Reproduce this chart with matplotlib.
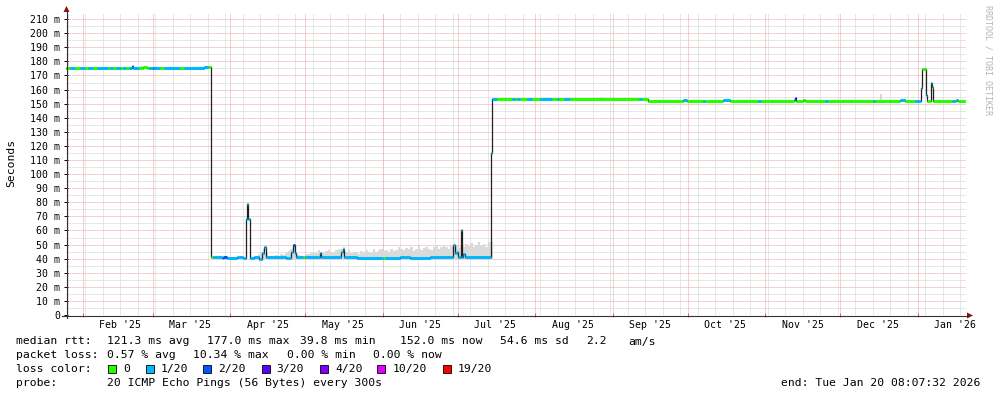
import numpy as np
import pandas as pd
import matplotlib
matplotlib.use("Agg")
import matplotlib.pyplot as plt
import matplotlib.dates as mdates
from matplotlib.lines import Line2D
from matplotlib.patches import Polygon, Rectangle
from matplotlib.collections import LineCollection

plt.rcParams['font.family'] = ['DejaVu Sans Mono']

W, H = 997, 397
t_start = pd.Timestamp("2025-01-25 08:07:32")
t_end = pd.Timestamp("2026-01-20 08:07:32")

# loss buckets
loss_labels = ["0", "1/20", "2/20", "3/20", "4/20", "10/20", "19/20"]
loss_colors = ["#26ff00", "#00b8ff", "#0059ff", "#5e00ff", "#7e00ff", "#dd00ff", "#ff0000"]

# median rtt as steps: value (ms) and loss bucket hold until next timestamp
med_time = [
    "2025-01-25 08:07", "2025-01-27 00:00", "2025-01-29 00:00", "2025-01-31 00:00",
    "2025-02-02 00:00", "2025-02-03 00:00", "2025-02-05 00:00", "2025-02-06 16:00",
    "2025-02-11 00:00", "2025-02-12 00:00", "2025-02-13 00:00", "2025-02-14 08:00",
    "2025-02-16 04:00", "2025-02-17 04:00", "2025-02-18 12:00", "2025-02-19 12:00",
    "2025-02-20 16:00", "2025-02-21 04:00", "2025-02-23 12:00", "2025-02-25 00:00",
    "2025-02-26 14:00", "2025-02-27 12:00", "2025-03-01 02:00", "2025-03-01 14:00",
    "2025-03-03 22:00", "2025-03-05 12:00", "2025-03-11 22:00", "2025-03-13 12:00",
    "2025-03-21 12:00", "2025-03-23 08:00",
    "2025-03-24 04:00", "2025-03-25 04:00", "2025-03-27 00:00", "2025-03-28 16:00",
    "2025-03-29 02:00", "2025-03-30 16:00", "2025-04-03 22:00", "2025-04-06 06:00",
    "2025-04-07 04:00", "2025-04-07 14:00", "2025-04-08 04:00", "2025-04-08 20:00",
    "2025-04-10 16:00", "2025-04-12 16:00", "2025-04-13 22:00", "2025-04-14 16:00",
    "2025-04-15 08:00", "2025-04-21 16:00", "2025-04-23 12:00", "2025-04-25 12:00",
    "2025-04-26 08:00", "2025-04-27 02:00", "2025-04-27 12:00", "2025-04-30 08:00",
    "2025-05-01 02:00", "2025-05-06 22:00", "2025-05-07 08:00", "2025-05-10 00:00",
    "2025-05-15 12:00", "2025-05-16 02:00", "2025-05-16 12:00", "2025-05-21 22:00",
    "2025-06-01 04:00", "2025-06-02 00:00", "2025-06-08 00:00", "2025-06-12 00:00",
    "2025-06-20 00:00", "2025-06-28 12:00", "2025-06-29 08:00", "2025-06-29 22:00",
    "2025-06-30 16:00", "2025-07-01 08:00", "2025-07-02 04:00", "2025-07-02 16:00",
    "2025-07-03 08:00", "2025-07-04 02:00", "2025-07-14 04:00", "2025-07-14 14:00",
    "2025-07-16 22:00", "2025-07-22 22:00", "2025-07-24 02:00", "2025-07-24 22:00",
    "2025-07-26 02:00", "2025-07-28 22:00", "2025-07-30 22:00", "2025-08-03 02:00",
    "2025-08-07 22:00", "2025-08-09 22:00", "2025-08-10 16:00", "2025-08-12 16:00",
    "2025-08-15 02:00", "2025-09-11 16:00", "2025-09-12 22:00", "2025-09-15 04:00",
    "2025-09-29 06:00", "2025-09-30 22:00", "2025-10-07 06:00", "2025-10-08 02:00",
    "2025-10-15 06:00", "2025-10-18 02:00", "2025-10-29 02:00", "2025-10-30 06:00",
    "2025-11-12 12:00", "2025-11-12 22:00", "2025-11-13 12:00", "2025-11-16 06:00",
    "2025-11-17 02:00", "2025-11-24 22:00", "2025-11-26 02:00", "2025-12-14 06:00",
    "2025-12-15 02:00", "2025-12-25 02:00", "2025-12-27 02:00", "2025-12-31 02:00",
    "2026-01-02 04:00", "2026-01-02 14:00", "2026-01-04 12:00", "2026-01-04 22:00",
    "2026-01-06 04:00", "2026-01-06 14:00", "2026-01-07 00:00", "2026-01-14 22:00",
    "2026-01-16 02:00", "2026-01-16 12:00", "2026-01-17 08:00",
]
med_ms = [
    175.2, 175.2, 175.2, 175.2, 175.2, 175.2, 175.2, 175.2,
    175.2, 175.2, 175.2, 175.2, 175.2, 175.2, 175.2, 175.2,
    177.0, 175.2, 175.2, 176.3, 175.2, 175.2, 175.2, 175.2,
    175.2, 175.2, 175.2, 175.2, 176.3, 176.3,
    41.0, 41.0, 41.5, 40.7, 41.0, 40.7, 41.1, 40.3,
    68.0, 78.8, 68.0, 40.5, 41.0, 39.8, 44.0, 48.0,
    41.0, 41.5, 40.8, 45.0, 49.5, 44.0, 41.0, 41.0,
    41.5, 44.0, 41.5, 41.0, 45.0, 47.0, 41.0, 40.5,
    40.8, 40.8, 41.0, 40.7, 41.0, 41.0, 49.7, 44.0,
    45.0, 41.0, 60.3, 41.5, 43.0, 41.0, 114.7, 153.6,
    153.0, 153.5, 153.0, 153.0, 153.0, 153.0, 153.0, 153.0,
    153.0, 153.0, 153.0, 153.3, 153.0, 153.0, 153.0, 152.1,
    152.4, 152.1, 152.1, 152.1, 152.6, 152.1, 152.1, 152.1,
    152.3, 153.9, 152.1, 152.5, 152.1, 152.1, 152.1, 152.1,
    152.1, 152.3, 152.1, 152.1, 161.0, 174.6, 156.0, 152.1,
    164.4, 161.6, 152.1, 152.1, 152.1, 152.8, 152.0,
]
med_loss = [
    0, 1, 0, 1, 0, 1, 0, 1,
    0, 1, 0, 1, 0, 1, 0, 1,
    1, 1, 0, 0, 0, 1, 2, 1,
    0, 1, 0, 1, 1, 0,
    0, 1, 1, 1, 2, 1, 1, 1,
    1, 1, 1, 1, 1, 1, 1, 1,
    1, 1, 1, 1, 2, 1, 1, 0,
    1, 1, 1, 1, 1, 1, 1, 1,
    0, 1, 1, 1, 1, 1, 1, 1,
    1, 1, 1, 1, 1, 1, 1, 1,
    0, 1, 0, 1, 0, 1, 0, 1,
    0, 1, 0, 1, 0, 1, 0, 0,
    1, 0, 1, 0, 1, 0, 1, 0,
    1, 3, 0, 0, 0, 1, 0, 1,
    0, 1, 0, 1, 1, 0, 1, 0,
    1, 0, 0, 1, 0, 1, 0,
]

# smoke (spread of the 20 pings), one sample per day
smoke_first_day = "2025-04-10"
smoke_top = [
    41.5, 42.0, 43.0, 45.0, 47.0, 44.0, 42.0, 41.5, 42.0, 42.5,
    42.0, 43.0, 42.5, 44.0, 45.5, 47.0, 48.0, 44.0, 42.5, 42.0,
    42.0, 43.0, 43.5, 44.0, 45.0, 44.0, 46.0, 45.0, 44.0, 45.5,
    46.0, 45.0, 44.5, 46.0, 47.0, 46.5, 48.0, 45.0, 46.0, 44.0,
    45.0, 44.5, 43.5, 45.5, 44.0, 46.0, 45.0, 44.0, 46.5, 45.0,
    46.0, 47.0, 45.5, 46.0, 44.5, 47.0, 45.5, 46.0, 48.0, 47.0,
    46.0, 47.5, 46.5, 48.0, 45.5, 47.0, 49.0, 46.0, 47.5, 48.5,
    47.0, 46.0, 48.0, 49.5, 47.0, 48.0, 50.0, 48.5, 47.0, 49.0,
    48.0, 50.0, 47.5, 49.0, 48.0, 50.5, 49.0, 51.0, 48.0, 50.0,
    52.0, 49.0, 50.5, 48.0, 51.5, 52.0,
]
smoke_bottom = 40.0
# isolated smoke bars outside that period
extra_smoke_time = ["2025-02-17 12:00", "2025-02-24 00:00", "2025-03-02 00:00",
                    "2025-08-27 00:00", "2025-12-17 00:00"]
extra_smoke_lo = [175.2, 175.2, 175.2, 152.5, 152.1]
extra_smoke_hi = [176.5, 176.5, 176.5, 154.5, 157.0]

y_ticks = list(range(0, 211, 10))
month_starts = pd.date_range("2025-02-01", "2026-01-01", freq="MS")
month_labels = [d.strftime("%b '%y") for d in month_starts]

fig = plt.figure(figsize=(W / 100, H / 100), dpi=100)
ax = fig.add_axes([66 / W, (H - 315) / H, 900 / W, 302 / H])
ax.set_xlim(t_start, t_end)
ax.set_ylim(0, 302 / 1.409)
for s in ax.spines.values():
    s.set_visible(False)

red = "#efa2a2"
grey = "#d0d0d0"
dot = (0, (1, 1))
gkw = dict(lw=0.72, ls=dot, zorder=0)
for v in range(5, 215, 10):
    ax.axhline(v, color=grey, **gkw)
for v in y_ticks[1:]:
    ax.axhline(v, color=red, **gkw)
sundays = pd.date_range("2025-01-26", "2026-01-20", freq="W-SUN")
for d in sundays:
    ax.axvline(d, color=grey, **gkw)
for d in month_starts:
    ax.axvline(d, color=red, **gkw)

# smoke
sd = pd.date_range(smoke_first_day, periods=len(smoke_top), freq="D")
ax.bar(sd, np.array(smoke_top) - smoke_bottom, bottom=smoke_bottom, width=1.0,
       align="edge", color="#dadada", lw=0, zorder=1)
et = pd.to_datetime(extra_smoke_time)
ax.bar(et, np.array(extra_smoke_hi) - np.array(extra_smoke_lo), bottom=extra_smoke_lo,
       width=0.6, align="edge", color="#d6d6d6", lw=0, zorder=1)

# median: dark connecting step line + loss coloured segments
mt = list(pd.to_datetime(med_time)) + [t_end]
ax.step(mt, med_ms + [med_ms[-1]], where="post", color="#202020", lw=0.9, zorder=2)
mx = mdates.date2num(mt)
segs = [[(mx[i], med_ms[i]), (mx[i + 1], med_ms[i])] for i in range(len(med_ms))]
cols = [loss_colors[k] for k in med_loss]
ax.add_collection(LineCollection(segs, colors=cols, linewidths=2.2, capstyle="butt", zorder=3))

# ticks
ax.set_yticks(y_ticks)
ax.set_yticklabels(["0" if v == 0 else f"{v} m" for v in y_ticks])
ax.tick_params(axis="y", direction="inout", length=3, width=0.7, pad=2.6,
               labelsize=7.1, colors="#000000")
ax.set_xticks(month_starts)
ax.set_xticklabels([])
ax.tick_params(axis="x", direction="inout", length=3, width=0.7, color="#d06060")
for d, lab in zip(month_starts, month_labels):
    ax.text(d + pd.Timedelta(days=15), -7.3, lab, ha="center", va="center",
            fontsize=7.1, clip_on=False)

# axes with arrow heads, in figure pixels (y from top)
def fx(x):
    return x / W

def fy(y):
    return 1 - y / H

fig.add_artist(Line2D([fx(66.5), fx(66.5)], [fy(318), fy(11)], color="#333333", lw=0.8))
fig.add_artist(Line2D([fx(62), fx(968)], [fy(315.5), fy(315.5)], color="#333333", lw=0.8))
fig.add_artist(Polygon([(fx(63.5), fy(12)), (fx(69.5), fy(12)), (fx(66.5), fy(6))],
                       closed=True, color="#8b1010", lw=0))
fig.add_artist(Polygon([(fx(967), fy(312.5)), (fx(967), fy(318.5)), (fx(973), fy(315.5))],
                       closed=True, color="#8b1010", lw=0))

fig.text(fx(11), fy(163), "Seconds", rotation=90, ha="center", va="center", fontsize=8.2)
fig.text(fx(988), fy(60), "RRDTOOL / TOBI OETIKER", rotation=270, ha="center",
         va="center", fontsize=6, color="#b4b4b4")

fs = 8.2
def txt(x, y, s, **kw):
    fig.text(fx(x), fy(y), s, ha="left", va="center", fontsize=fs, **kw)

y1, y2, y3, y4 = 341.5, 355, 369, 382.5
txt(16, y1, "median rtt:")
for x, s in [(107.3, "121.3 ms avg"), (207.3, "177.0 ms max"), (300, "39.8 ms min"),
             (400, "152.0 ms now"), (500, "54.6 ms sd"), (586, "2.2"), (628.3, "am/s")]:
    txt(x, y1, s)
txt(16, y2, "packet loss:")
for x, s in [(107.3, "0.57 % avg"), (193.3, "10.34 % max"), (286.7, "0.00 % min"),
             (372.7, "0.00 % now")]:
    txt(x, y2, s)
txt(16, y3, "loss color:")
box_x = [108.3, 145.7, 203.3, 261.7, 320, 377.3, 442.7]
for bx, lab, c in zip(box_x, loss_labels, loss_colors):
    fig.add_artist(Rectangle((fx(bx), fy(y3 + 4)), 8 / W, 8 / H, facecolor=c,
                             edgecolor="#000000", lw=0.6))
    txt(bx + 15, y3, lab)
txt(16, y4, "probe:")
txt(107.3, y4, "20 ICMP Echo Pings (56 Bytes) every 300s")
fig.text(fx(980), fy(y4), "end: Tue Jan 20 08:07:32 2026", ha="right", va="center", fontsize=fs)

fig.savefig("out.png", dpi=100)
